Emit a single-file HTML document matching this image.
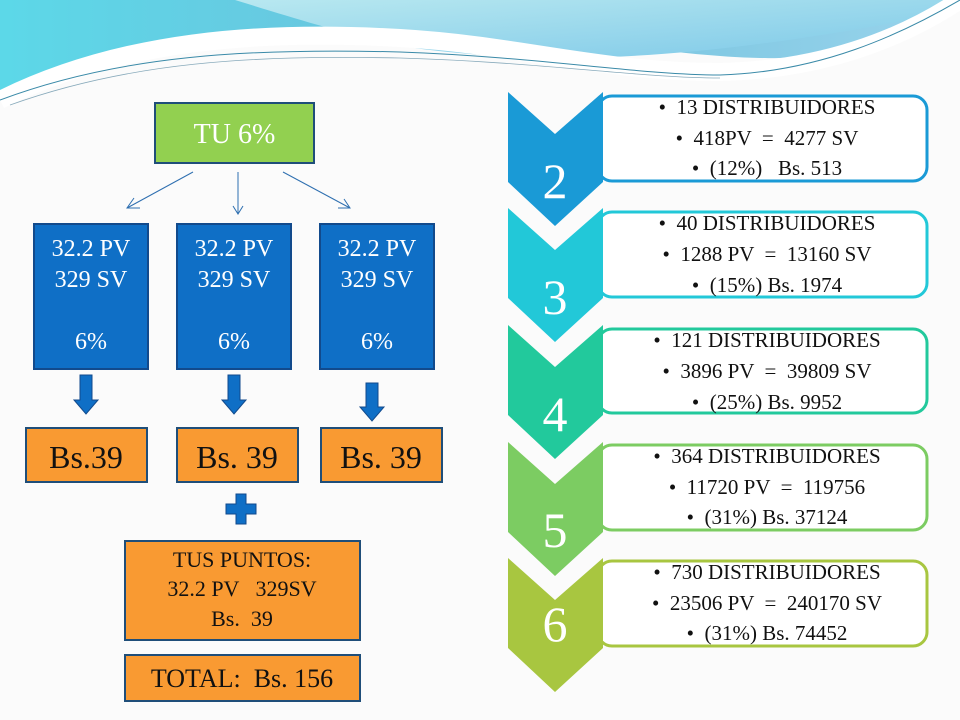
<!DOCTYPE html>
<html><head><meta charset="utf-8"><style>
html,body{margin:0;padding:0;background:#fdfdfd;}
svg{display:block;font-family:"Liberation Serif",serif;}
text{white-space:pre;}
</style></head><body>
<svg width="960" height="720" viewBox="0 0 960 720" xmlns="http://www.w3.org/2000/svg">
<defs>
<linearGradient id="bg" x1="0" y1="0" x2="1" y2="0">
<stop offset="0" stop-color="#5cd8e8"/><stop offset="0.5" stop-color="#6ec0dc"/><stop offset="1" stop-color="#9ad4ec"/>
</linearGradient>
<linearGradient id="bg2" x1="0" y1="0" x2="1" y2="1">
<stop offset="0" stop-color="#b8e8f0"/><stop offset="1" stop-color="#7cc8e8"/>
</linearGradient>
</defs>
<rect width="960" height="720" fill="#fbfbfb"/>
<path d="M0,0 H960 V0 C900,40 820,60 760,58 C650,55 560,30 420,32 C250,34 100,60 0,100 Z" fill="url(#bg)"/>
<path d="M235,0 C300,20 380,45 430,50 C560,65 700,62 960,10 V0 Z" fill="url(#bg2)"/>
<path d="M0,100 C120,40 260,30 400,38 C520,45 600,72 720,72 C820,70 900,40 960,0" fill="none" stroke="#fff" stroke-width="18"/>
<path d="M0,100 C120,55 250,48 400,52 C540,57 640,75 720,75 C820,72 900,35 960,0" fill="none" stroke="#3a8aa8" stroke-width="1"/>
<path d="M10,105 C130,62 250,55 400,58 C540,62 640,78 720,78" fill="none" stroke="#8ab" stroke-width="0.8"/>

<rect x="155" y="103" width="159" height="60" fill="#92d050" stroke="#1f4e79" stroke-width="2"/>
<text x="234.5" y="143" font-size="28" text-anchor="middle" fill="#fff">TU 6%</text>
<g stroke="#2e6fb0" stroke-width="1" fill="none">
<line x1="193" y1="172" x2="127" y2="208"/><polyline points="134,198 127,208 140,208"/>
<line x1="238" y1="172" x2="238" y2="214"/><polyline points="233,206 238,214 243,206"/>
<line x1="283" y1="172" x2="350" y2="208"/><polyline points="338,208 350,208 344,199"/>
</g>
<g fill="#0f6fc6" stroke="#124a8c" stroke-width="2">
<rect x="34" y="224" width="114" height="145"/>
<rect x="177" y="224" width="114" height="145"/>
<rect x="320" y="224" width="114" height="145"/>
</g>
<g fill="#fff" font-size="24" text-anchor="middle">
<text x="91" y="256">32.2 PV</text><text x="91" y="287">329 SV</text><text x="91" y="349">6%</text>
<text x="234" y="256">32.2 PV</text><text x="234" y="287">329 SV</text><text x="234" y="349">6%</text>
<text x="377" y="256">32.2 PV</text><text x="377" y="287">329 SV</text><text x="377" y="349">6%</text>
</g>
<g fill="#0f6fc6" stroke="#124a8c" stroke-width="1">
<path d="M80,375 H92 V400 H98 L86,414 L74,400 H80 Z"/>
<path d="M228,375 H240 V400 H246 L234,414 L222,400 H228 Z"/>
<path d="M366,383 H378 V407 H384 L372,421 L360,407 H366 Z"/>
</g>
<g fill="#f99a32" stroke="#1f4e79" stroke-width="2">
<rect x="26" y="428" width="121" height="54"/>
<rect x="177" y="428" width="121" height="54"/>
<rect x="321" y="428" width="121" height="54"/>
</g>
<g fill="#111" font-size="32" text-anchor="middle">
<text x="86" y="468">Bs.39</text><text x="237" y="468">Bs. 39</text><text x="381" y="468">Bs. 39</text>
</g>
<path d="M236,494 H246 V504 H256 V514 H246 V524 H236 V514 H226 V504 H236 Z" fill="#0f6fc6" stroke="#124a8c" stroke-width="1"/>
<rect x="125" y="541" width="235" height="99" fill="#f99a32" stroke="#1f4e79" stroke-width="2"/>
<g fill="#111" font-size="22" text-anchor="middle">
<text x="242" y="567">TUS PUNTOS:</text><text x="242" y="596">32.2 PV   329SV</text><text x="242" y="626">Bs.  39</text>
</g>
<rect x="125" y="655" width="235" height="46" fill="#f99a32" stroke="#1f4e79" stroke-width="2"/>
<text x="242" y="687" font-size="26" text-anchor="middle" fill="#111">TOTAL:  Bs. 156</text>

<g stroke-width="3" fill="#fff">
<rect x="598" y="96" width="329" height="85" rx="14" stroke="#1a9ad6"/>
<rect x="598" y="212" width="329" height="85" rx="14" stroke="#22c8d8"/>
<rect x="598" y="329" width="329" height="84" rx="14" stroke="#22c99c"/>
<rect x="598" y="445" width="329" height="85" rx="14" stroke="#7ccc62"/>
<rect x="598" y="561" width="329" height="85" rx="14" stroke="#a8c640"/>
</g>
<path d="M508,558 L555,600 L603,558 L603,648 L555,692 L508,648 Z" fill="#a8c640"/>
<path d="M508,442 L555,484 L603,442 L603,532 L555,576 L508,532 Z" fill="#7ccc62"/>
<path d="M508,325 L555,367 L603,325 L603,415 L555,459 L508,415 Z" fill="#22c99c"/>
<path d="M508,208 L555,250 L603,208 L603,298 L555,342 L508,298 Z" fill="#22c8d8"/>
<path d="M508,92 L555,134 L603,92 L603,182 L555,226 L508,182 Z" fill="#1a9ad6"/>
<g fill="#fff" font-size="50" text-anchor="middle">
<text x="555" y="198">2</text><text x="555" y="314">3</text><text x="555" y="431">4</text><text x="555" y="547">5</text><text x="555" y="641">6</text>
</g>
<g fill="#111" font-size="21" text-anchor="middle">
<text x="767" y="114">•  13 DISTRIBUIDORES</text><text x="767" y="145">•  418PV  =  4277 SV</text><text x="767" y="175">•  (12%)   Bs. 513</text>
<text x="767" y="230">•  40 DISTRIBUIDORES</text><text x="767" y="261">•  1288 PV  =  13160 SV</text><text x="767" y="292">•  (15%) Bs. 1974</text>
<text x="767" y="347">•  121 DISTRIBUIDORES</text><text x="767" y="378">•  3896 PV  =  39809 SV</text><text x="767" y="409">•  (25%) Bs. 9952</text>
<text x="767" y="463">•  364 DISTRIBUIDORES</text><text x="767" y="494">•  11720 PV  =  119756</text><text x="767" y="524">•  (31%) Bs. 37124</text>
<text x="767" y="579">•  730 DISTRIBUIDORES</text><text x="767" y="610">•  23506 PV  =  240170 SV</text><text x="767" y="640">•  (31%) Bs. 74452</text>
</g>
</svg>
</body></html>
